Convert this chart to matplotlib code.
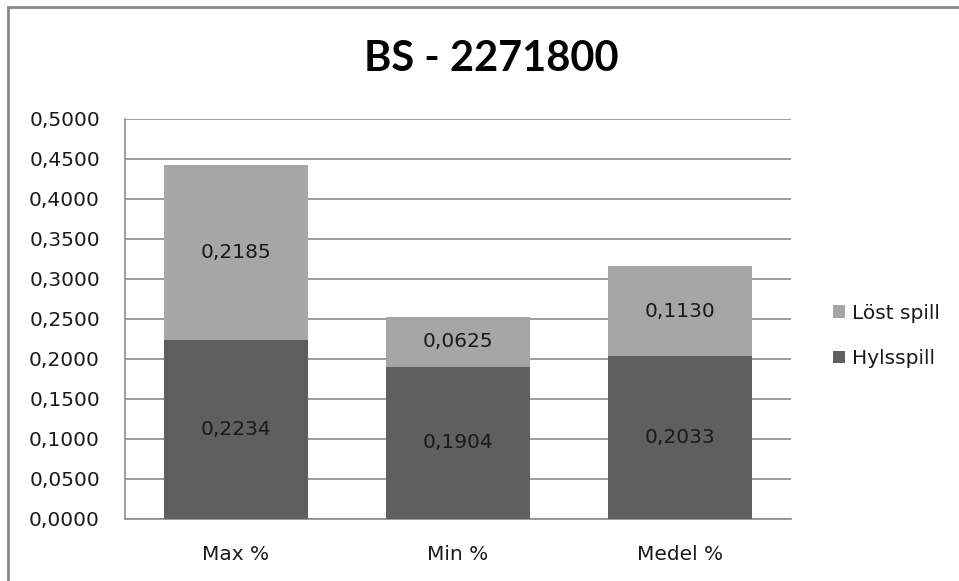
import matplotlib.pyplot as plt
from matplotlib.patches import Rectangle
from matplotlib.ticker import FuncFormatter, MultipleLocator
import numpy as np

plt.rcParams['font.family'] = ['DejaVu Sans']

categories = ["Max %", "Min %", "Medel %"]
hylsspill = [0.2234, 0.1904, 0.2033]
lost_spill = [0.2185, 0.0625, 0.1130]

light = "#a6a6a6"
dark = "#5f5f5f"
txt = "#1a1a1a"

fig = plt.figure(figsize=(9.59, 5.81), dpi=100)
W, H = 959, 581

# chart frame, open at the right and bottom edges
fig.patches.append(Rectangle((8 / W, -0.1), 1, 1.1 - 7 / H, transform=fig.transFigure,
                             fill=False, edgecolor="#888888", linewidth=2))

ax = fig.add_axes([125 / W, 1 - 519 / H, 666 / W, 400 / H])
x = np.arange(len(categories))
w = 0.645
b1 = ax.bar(x, hylsspill, w, color=dark, label="Hylsspill", zorder=3)
b2 = ax.bar(x, lost_spill, w, bottom=hylsspill, color=light, label="Löst spill", zorder=3)

fmt = lambda v: f"{v:.4f}".replace(".", ",")
for xi, h, l in zip(x, hylsspill, lost_spill):
    ax.text(xi, h / 2, fmt(h), ha="center", va="center", fontsize=14.5, color=txt, zorder=4)
    ax.text(xi, h + l / 2, fmt(l), ha="center", va="center", fontsize=14.5, color=txt, zorder=4)

ax.set_xlim(-0.5, 2.5)
ax.set_ylim(0, 0.5)
ax.yaxis.set_major_locator(MultipleLocator(0.05))
ax.yaxis.set_major_formatter(FuncFormatter(lambda v, p: fmt(v)))
ax.set_xticks(x)
ax.set_xticklabels(categories)
ax.tick_params(axis="y", length=0, pad=18, labelsize=14.5, labelcolor=txt)
ax.tick_params(axis="x", length=0, pad=19, labelsize=14.5, labelcolor=txt)
ax.grid(axis="y", color="#8c8c8c", linewidth=1.2, zorder=0)
for s in ["top", "right"]:
    ax.spines[s].set_visible(False)
ax.spines["left"].set_color("#8c8c8c")
ax.spines["left"].set_linewidth(1.2)
ax.spines["bottom"].set_color("#8c8c8c")
ax.spines["bottom"].set_linewidth(1.2)

fig.text(491 / W, 1 - 59 / H, "BS - 2271800", ha="center", va="center",
         fontsize=30, fontweight="bold", family=["Lato", "DejaVu Sans"])

handles = [b2, b1]
fig.legend(handles, ["Löst spill", "Hylsspill"], loc="center left",
           bbox_to_anchor=(815 / W, 1 - 336 / H), frameon=False, fontsize=14.5,
           handlelength=0.6, handleheight=0.6, handletextpad=0.35, labelspacing=1.3,
           labelcolor=txt)

fig.savefig("out.png", dpi=100)
